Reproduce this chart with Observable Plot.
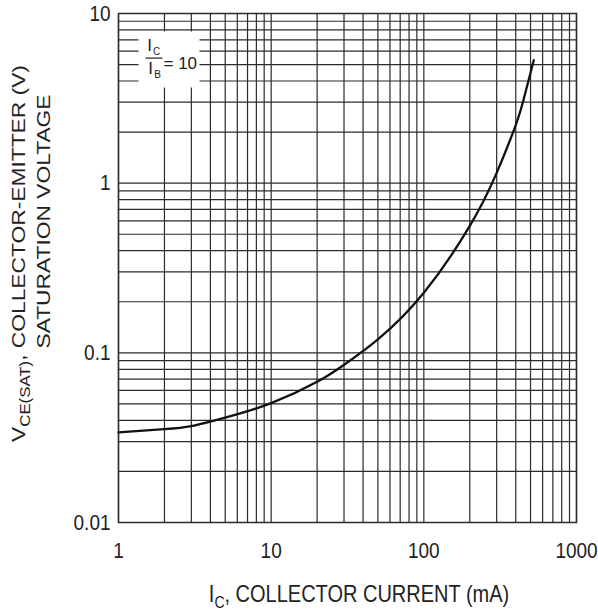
<!DOCTYPE html>
<html><head><meta charset="utf-8">
<script src="https://cdn.jsdelivr.net/npm/d3@7"></script>
<script src="https://cdn.jsdelivr.net/npm/@observablehq/plot@0.6"></script>
<style>
body{margin:0;background:#fff}
#chart svg{display:block}
</style></head><body><div id="chart"></div>
<script>
// Data
const collectorCurrent = [1, 2, 3, 5, 10, 20, 30, 50, 100, 200, 300, 400, 450, 525];
const saturationVoltage = [0.034, 0.0355, 0.037, 0.0415, 0.0505, 0.0675, 0.085, 0.12, 0.226, 0.56, 1.15, 2.2, 3.1, 5.3];
const xTickValues = [1, 10, 100, 1000];
const xTickLabels = ["1", "10", "100", "1000"];
const yTickValues = [0.01, 0.1, 1, 10];
const yTickLabels = ["0.01", "0.1", "1", "10"];
const ratioValue = "10";

const data = collectorCurrent.map((ic, i) => ({ic, v: saturationVoltage[i]}));
const xGrid = d3.scaleLog().domain([1, 1000]).ticks();
const yGrid = d3.scaleLog().domain([0.01, 10]).ticks();

const W = 598, H = 614, ML = 118, MR = 22, MT = 13, MB = 92;
const ink = "#2b2b2b";
const textInk = "#222";
const font = "'Liberation Sans', Arial, sans-serif";
const stretch = 1.2;

const plot = Plot.plot({
  width: W, height: H,
  marginLeft: ML, marginRight: MR, marginTop: MT, marginBottom: MB,
  style: {fontFamily: font, color: textInk, background: "#fff", overflow: "visible"},
  x: {type: "log", domain: [1, 1000]},
  y: {type: "log", domain: [0.01, 10]},
  marks: [
    Plot.ruleX(xGrid, {stroke: ink, strokeWidth: 1.2}),
    Plot.ruleY(yGrid, {stroke: ink, strokeWidth: 1.2}),
    // white box behind the IC/IB annotation
    Plot.frame({fill: "white", stroke: null, insetLeft: 20, insetRight: 377, insetTop: 18, insetBottom: 435}),
    Plot.frame({stroke: ink, strokeWidth: 1.5}),
    Plot.line(data, {x: "ic", y: "v", curve: "natural", stroke: "#111", strokeWidth: 2.3}),
    // annotation  IC / IB = 10
    Plot.text(["I"], {text: d => d, frameAnchor: "top-left", dx: 31, dy: 32, fontSize: 17, textAnchor: "middle", lineAnchor: "middle", fill: textInk}),
    Plot.text(["C"], {text: d => d, frameAnchor: "top-left", dx: 38, dy: 38, fontSize: 10, textAnchor: "middle", lineAnchor: "middle", fill: textInk}),
    Plot.frame({fill: textInk, stroke: null, insetLeft: 27, insetRight: 414, insetTop: 44, insetBottom: 463.8}),
    Plot.text(["I"], {text: d => d, frameAnchor: "top-left", dx: 32, dy: 55, fontSize: 17, textAnchor: "middle", lineAnchor: "middle", fill: textInk}),
    Plot.text(["B"], {text: d => d, frameAnchor: "top-left", dx: 39, dy: 61, fontSize: 10, textAnchor: "middle", lineAnchor: "middle", fill: textInk}),
    Plot.text([ratioValue], {text: d => "= " + d, frameAnchor: "top-left", dx: 45, dy: 50, fontSize: 17, textAnchor: "start", lineAnchor: "middle", fill: textInk}),
    Plot.axisX(xTickValues, {tickSize: 0, tickPadding: 19, fontSize: 19, label: null,
      tickFormat: d => xTickLabels[xTickValues.indexOf(d)]}),
    Plot.axisY(yTickValues, {tickSize: 0, tickPadding: 8, fontSize: 19, label: null,
      tickFormat: d => yTickLabels[yTickValues.indexOf(d)]})
  ]
});

document.getElementById("chart").appendChild(plot);
const svg = d3.select(plot);

// Vertically stretched tick labels like the reference
svg.selectAll('[aria-label="x-axis tick label"] text, [aria-label="y-axis tick label"] text')
  .attr("transform", function() { return (this.getAttribute("transform") || "") + ` scale(1,${stretch})`; });

// Axis titles with subscripts
const xl = svg.append("text")
  .attr("transform", `translate(${(ML + W - MR) / 2 + 12},601.5) scale(1,${stretch})`)
  .attr("text-anchor", "middle").attr("font-size", 20).attr("fill", textInk).attr("font-family", font);
xl.append("tspan").text("I");
xl.append("tspan").attr("font-size", 14).attr("dy", 5).text("C");
xl.append("tspan").attr("dy", -5).text(", COLLECTOR CURRENT (mA)");

const yl1 = svg.append("text")
  .attr("transform", `translate(25,253.5) rotate(-90) scale(${stretch},1)`)
  .attr("text-anchor", "middle").attr("font-size", 19).attr("fill", textInk).attr("font-family", font);
yl1.append("tspan").text("V");
yl1.append("tspan").attr("font-size", 14).attr("dy", 5).text("CE(SAT)");
yl1.append("tspan").attr("dy", -5).text(", COLLECTOR-EMITTER (V)");

svg.append("text")
  .attr("transform", `translate(50,221.5) rotate(-90) scale(${stretch},1)`)
  .attr("text-anchor", "middle").attr("font-size", 19).attr("fill", textInk).attr("font-family", font)
  .text("SATURATION VOLTAGE");
</script></body></html>
